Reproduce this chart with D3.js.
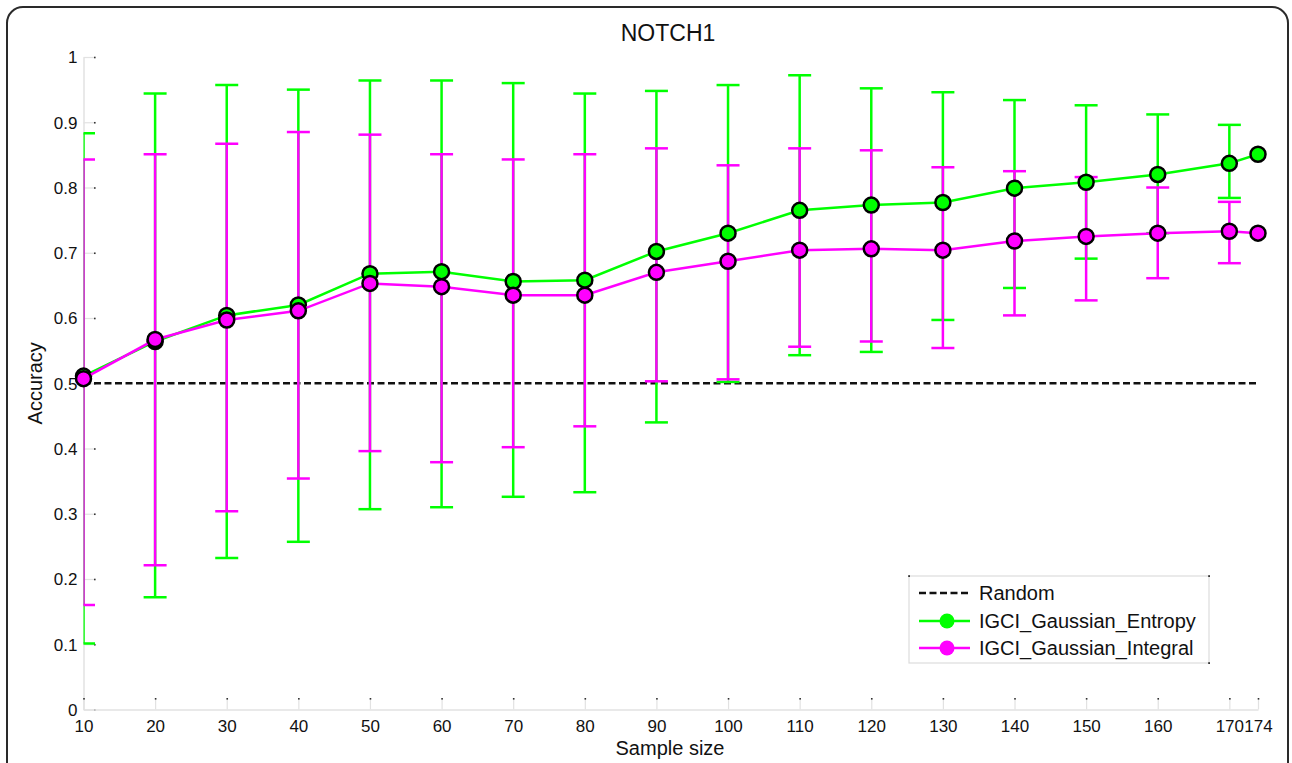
<!DOCTYPE html>
<html>
<head>
<meta charset="utf-8">
<script src="https://cdn.jsdelivr.net/npm/d3@7"></script>
<style>
  html, body { margin: 0; padding: 0; background: #fff; }
  svg { display: block; font-family: "Liberation Sans", Arial, sans-serif; }
</style>
</head>
<body>
<svg id="chart" width="1292" height="763"></svg>
<script>
// ---- data ----
const sampleSizes = [10, 20, 30, 40, 50, 60, 70, 80, 90, 100, 110, 120, 130, 140, 150, 160, 170, 174];
const entropyMean  = [0.511, 0.564, 0.604, 0.620, 0.668, 0.671, 0.656, 0.658, 0.702, 0.730, 0.765, 0.773, 0.777, 0.799, 0.808, 0.820, 0.837, 0.851];
const entropyUpper = [0.883, 0.944, 0.957, 0.950, 0.964, 0.964, 0.960, 0.944, 0.948, 0.957, 0.972, 0.952, 0.946, 0.934, 0.926, 0.912, 0.896, null];
const entropyLower = [0.101, 0.172, 0.232, 0.257, 0.307, 0.310, 0.326, 0.333, 0.440, 0.502, 0.543, 0.548, 0.597, 0.646, 0.691, 0.730, 0.784, null];
const integralMean  = [0.507, 0.567, 0.597, 0.611, 0.653, 0.648, 0.635, 0.635, 0.670, 0.687, 0.704, 0.706, 0.704, 0.718, 0.725, 0.730, 0.733, 0.730];
const integralUpper = [0.843, 0.851, 0.867, 0.885, 0.881, 0.851, 0.843, 0.851, 0.860, 0.834, 0.860, 0.857, 0.831, 0.825, 0.816, 0.800, 0.778, null];
const integralLower = [0.160, 0.221, 0.304, 0.354, 0.396, 0.379, 0.402, 0.434, 0.503, 0.506, 0.556, 0.564, 0.554, 0.604, 0.627, 0.661, 0.684, null];
const randomLevel = 0.5;
const xTicks = [10, 20, 30, 40, 50, 60, 70, 80, 90, 100, 110, 120, 130, 140, 150, 160, 170, 174];
const yTicks = [0, 0.1, 0.2, 0.3, 0.4, 0.5, 0.6, 0.7, 0.8, 0.9, 1];
const yTickLabels = ["0", "0.1", "0.2", "0.3", "0.4", "0.5", "0.6", "0.7", "0.8", "0.9", "1"];
const seriesNames = ["Random", "IGCI_Gaussian_Entropy", "IGCI_Gaussian_Integral"];
const titleText = "NOTCH1";
const xLabel = "Sample size";
const yLabel = "Accuracy";

const GREEN = "#00ff00", MAGENTA = "#ff00ff";

const svg = d3.select("#chart");

// frame
svg.append("rect").attr("x", 7).attr("y", 7).attr("width", 1281).attr("height", 820)
  .attr("rx", 16).attr("ry", 16).attr("fill", "#fff").attr("stroke", "#2a2a2a").attr("stroke-width", 2);

const x = d3.scaleLinear().domain([10, 174]).range([83.5, 1258]);
const y = d3.scaleLinear().domain([0, 1]).range([709.5, 57]);

// clip for error bars
svg.append("clipPath").attr("id", "plotclip").append("rect")
  .attr("x", x(10)).attr("y", 0).attr("width", 1300).attr("height", 763);

// axes (light grey lines, ticks with dark dot ends)
const yAxis = d3.axisLeft(y).tickValues(yTicks).tickSize(0).tickPadding(6)
  .tickFormat((d, i) => yTickLabels[i]);
const gy = svg.append("g").attr("transform", `translate(${x(10)},0)`).call(yAxis);
gy.select(".domain").attr("stroke", "#e2e2e2").attr("stroke-width", 1.5);
gy.selectAll(".tick text").attr("font-size", 17).attr("fill", "#111").attr("x", -6).attr("dy", "0.35em");
gy.selectAll(".tick").append("line").attr("x1", 0).attr("x2", 11).attr("stroke", "#e2e2e2").attr("stroke-width", 1.2);
gy.selectAll(".tick").append("rect").attr("x", 10.5).attr("y", -0.8).attr("width", 1.6).attr("height", 1.6).attr("fill", "#333");

const xAxis = d3.axisBottom(x).tickValues(xTicks).tickSize(0).tickPadding(10).tickFormat(d3.format("d"));
const gx = svg.append("g").attr("transform", `translate(0,${y(0)})`).call(xAxis);
gx.select(".domain").attr("stroke", "#e2e2e2").attr("stroke-width", 1.5);
gx.selectAll(".tick text").attr("font-size", 17).attr("fill", "#111").attr("dy", "0.71em").attr("y", 10);
gx.selectAll(".tick").append("line").attr("y1", 0).attr("y2", -11).attr("stroke", "#e2e2e2").attr("stroke-width", 1.2);
gx.selectAll(".tick").append("rect").attr("x", -0.8).attr("y", -11.5).attr("width", 1.6).attr("height", 1.6).attr("fill", "#333");

// random line
svg.append("line").attr("x1", x(10)).attr("x2", x(174)).attr("y1", y(randomLevel)).attr("y2", y(randomLevel))
  .attr("stroke", "#111").attr("stroke-width", 2.5).attr("stroke-dasharray", "7,3.5");

function errorBars(mean, upper, lower, color) {
  const g = svg.append("g").attr("clip-path", "url(#plotclip)");
  const data = sampleSizes.map((s, i) => ({ s, lo: lower[i], hi: upper[i] })).filter(d => d.lo != null);
  const cap = 11.5;
  g.selectAll("line.v").data(data).enter().append("line")
    .attr("x1", d => x(d.s)).attr("x2", d => x(d.s)).attr("y1", d => y(d.lo)).attr("y2", d => y(d.hi))
    .attr("stroke", color).attr("stroke-width", 2.5);
  g.selectAll("line.t").data(data).enter().append("line")
    .attr("x1", d => x(d.s) - cap).attr("x2", d => x(d.s) + cap).attr("y1", d => y(d.hi)).attr("y2", d => y(d.hi))
    .attr("stroke", color).attr("stroke-width", 2.5);
  g.selectAll("line.b").data(data).enter().append("line")
    .attr("x1", d => x(d.s) - cap).attr("x2", d => x(d.s) + cap).attr("y1", d => y(d.lo)).attr("y2", d => y(d.lo))
    .attr("stroke", color).attr("stroke-width", 2.5);
}
function series(mean, color) {
  const pts = sampleSizes.map((s, i) => [s, mean[i]]);
  svg.append("path").datum(pts)
    .attr("d", d3.line().x(d => x(d[0])).y(d => y(d[1])))
    .attr("fill", "none").attr("stroke", color).attr("stroke-width", 2.5);
  svg.append("g").selectAll("circle").data(pts).enter().append("circle")
    .attr("cx", d => x(d[0])).attr("cy", d => y(d[1])).attr("r", 7.5)
    .attr("fill", color).attr("stroke", "#000").attr("stroke-width", 2.5);
}
errorBars(entropyMean, entropyUpper, entropyLower, GREEN);
errorBars(integralMean, integralUpper, integralLower, MAGENTA);
series(entropyMean, GREEN);
series(integralMean, MAGENTA);

// title & labels
svg.append("text").attr("x", 668).attr("y", 41).attr("text-anchor", "middle")
  .attr("font-size", 23).attr("fill", "#111").text(titleText);
svg.append("text").attr("x", 670).attr("y", 755).attr("text-anchor", "middle")
  .attr("font-size", 20).attr("fill", "#111").text(xLabel);
svg.append("text").attr("transform", `translate(42,${y(0.5)}) rotate(-90)`).attr("text-anchor", "middle")
  .attr("font-size", 20).attr("fill", "#111").text(yLabel);

// legend
const lg = svg.append("g");
lg.append("rect").attr("x", 909).attr("y", 576).attr("width", 300).attr("height", 87)
  .attr("fill", "#fff").attr("stroke", "#dcdcdc").attr("stroke-width", 1.2);
[[909, 576], [1209, 576], [1209, 663]].forEach(p => {
  lg.append("rect").attr("x", p[0] - 0.8).attr("y", p[1] - 0.8).attr("width", 1.8).attr("height", 1.8).attr("fill", "#333");
});
const rows = [593, 621, 648];
const legColors = ["#111", GREEN, MAGENTA];
seriesNames.forEach((name, i) => {
  const ln = lg.append("line").attr("x1", 919).attr("x2", 970).attr("y1", rows[i]).attr("y2", rows[i])
    .attr("stroke", legColors[i]).attr("stroke-width", 2.5);
  if (i === 0) ln.attr("stroke-dasharray", "7,3.5");
  else lg.append("circle").attr("cx", 947).attr("cy", rows[i]).attr("r", 7.5).attr("fill", legColors[i]);
  lg.append("text").attr("x", 979).attr("y", rows[i] + 7).attr("font-size", 20).attr("fill", "#111").text(name);
});
</script>
</body>
</html>
